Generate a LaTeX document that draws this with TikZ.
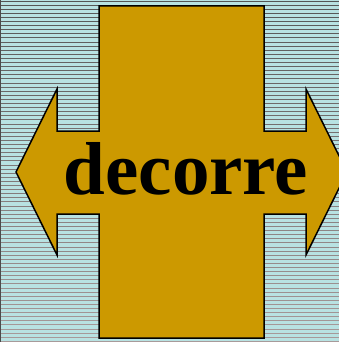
\documentclass[tikz,border=0pt]{standalone}
\usepackage{fontspec}
\setmainfont{Liberation Serif}
\definecolor{bgblue}{HTML}{B8E2E2}
\definecolor{hatchtop}{HTML}{555555}
\definecolor{hatchbot}{HTML}{A89A9A}
\definecolor{gold}{HTML}{CC9900}
\begin{document}
\begin{tikzpicture}[x=1pt,y=-1pt,
  bglines/.style={line width=0.9pt},
  shapeoutline/.style={fill=gold, draw=black, line width=1.5pt, line join=miter},
  label/.style={font=\fontsize{75}{75}\selectfont\bfseries, text=black, inner sep=0pt}]
\useasboundingbox (0,0) rectangle (339,342);
\clip (0,0) rectangle (339,342);
\fill[bgblue] (0,0) rectangle (339,342);
\foreach \i in {0,...,83} {
  \pgfmathtruncatemacro{\pct}{100-\i*100/83}
  \draw[bglines, hatchtop!\pct!hatchbot] (0,{1+\i*4.1}) -- (339,{1+\i*4.1});
}
\draw[gray!60!black, line width=0.8pt] (0,0) -- (0,342);
\draw[shapeoutline] (99,6) -- (264,6) -- (264,131) -- (306,131) -- (306,89)
  -- (347,172) -- (306,255) -- (306,214) -- (264,214) -- (264,338)
  -- (99,338) -- (99,214) -- (57,214) -- (57,255) -- (16,172)
  -- (57,89) -- (57,131) -- (99,131) -- cycle;
\node[label, anchor=base] (word) at (186,194) {decorre};
\end{tikzpicture}
\end{document}
